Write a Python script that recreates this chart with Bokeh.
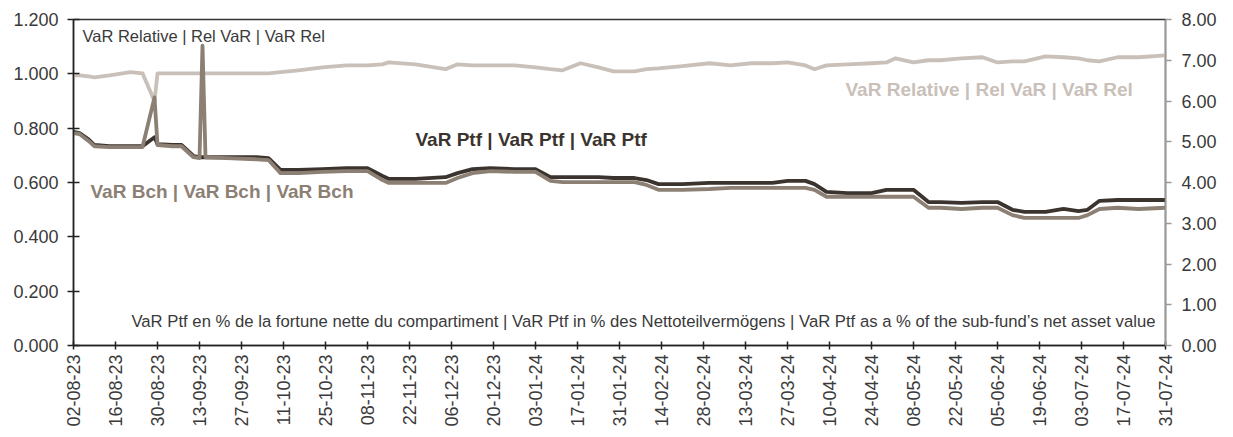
import math
import pandas as pd
from bokeh.plotting import figure
from bokeh.models import (Range1d, LinearAxis, FixedTicker, NumeralTickFormatter,
                          DatetimeTickFormatter, Label, ColumnDataSource)
from bokeh.embed import file_html
from bokeh.resources import INLINE

# ---------------- data ----------------
dates = ["2023-08-02", "2023-08-04", "2023-08-07", "2023-08-09", "2023-08-14", "2023-08-21",
         "2023-08-25", "2023-08-29", "2023-08-30", "2023-09-04", "2023-09-07", "2023-09-11",
         "2023-09-13", "2023-09-14", "2023-09-15", "2023-09-22", "2023-10-02", "2023-10-06",
         "2023-10-10", "2023-10-16", "2023-10-24", "2023-11-01", "2023-11-08", "2023-11-13",
         "2023-11-15", "2023-11-24", "2023-12-04", "2023-12-08", "2023-12-13", "2023-12-19",
         "2023-12-27", "2024-01-03", "2024-01-08", "2024-01-12", "2024-01-18", "2024-01-24",
         "2024-01-29", "2024-02-05", "2024-02-09", "2024-02-13", "2024-02-21", "2024-03-01",
         "2024-03-08", "2024-03-15", "2024-03-22", "2024-03-27", "2024-04-02", "2024-04-05",
         "2024-04-09", "2024-04-16", "2024-04-24", "2024-04-29", "2024-05-02", "2024-05-08",
         "2024-05-13", "2024-05-17", "2024-05-24", "2024-05-31", "2024-06-05", "2024-06-10",
         "2024-06-14", "2024-06-21", "2024-06-27", "2024-07-02", "2024-07-05", "2024-07-09",
         "2024-07-15", "2024-07-22", "2024-07-31"]

var_ptf = [5.24, 5.21, 5.06, 4.92, 4.89, 4.89, 4.89, 5.11, 4.94, 4.92,
           4.92, 4.65, 4.62, 4.62, 4.62, 4.62, 4.62, 4.60, 4.31, 4.31,
           4.33, 4.35, 4.35, 4.16, 4.09, 4.09, 4.13, 4.23, 4.33, 4.35,
           4.33, 4.33, 4.13, 4.13, 4.13, 4.13, 4.11, 4.11, 4.06, 3.96,
           3.96, 3.99, 3.99, 3.99, 3.99, 4.04, 4.04, 3.96, 3.77, 3.74,
           3.74, 3.82, 3.82, 3.82, 3.52, 3.52, 3.50, 3.52, 3.52, 3.33,
           3.28, 3.28, 3.35, 3.30, 3.33, 3.55, 3.57, 3.57, 3.57]

var_bch = [5.21, 5.19, 5.02, 4.89, 4.87, 4.87, 4.87, 6.09, 4.92, 4.89,
           4.89, 4.62, 4.60, 7.36, 4.62, 4.60, 4.57, 4.55, 4.23, 4.23,
           4.26, 4.28, 4.28, 4.06, 3.99, 3.99, 3.99, 4.11, 4.23, 4.28,
           4.26, 4.26, 4.04, 4.01, 4.01, 4.01, 4.01, 4.01, 3.94, 3.82,
           3.82, 3.84, 3.87, 3.87, 3.87, 3.87, 3.87, 3.82, 3.65, 3.65,
           3.65, 3.65, 3.65, 3.65, 3.38, 3.38, 3.35, 3.38, 3.38, 3.20,
           3.13, 3.13, 3.13, 3.13, 3.20, 3.35, 3.38, 3.35, 3.38]

var_rel = [0.994, 0.994, 0.991, 0.987, 0.994, 1.006, 1.002, 0.899, 1.002, 1.002,
           1.002, 1.002, 1.002, 1.002, 1.002, 1.002, 1.002, 1.002, 1.006, 1.013,
           1.024, 1.031, 1.031, 1.035, 1.042, 1.035, 1.017, 1.035, 1.031, 1.031,
           1.031, 1.024, 1.017, 1.013, 1.039, 1.024, 1.009, 1.009, 1.017, 1.020,
           1.028, 1.039, 1.031, 1.039, 1.039, 1.042, 1.031, 1.017, 1.031, 1.035,
           1.039, 1.042, 1.057, 1.042, 1.050, 1.050, 1.057, 1.061, 1.042, 1.046,
           1.046, 1.064, 1.061, 1.057, 1.050, 1.046, 1.061, 1.061, 1.068]

left_ticks = [0.0, 0.2, 0.4, 0.6, 0.8, 1.0, 1.2]
right_ticks = [0, 1, 2, 3, 4, 5, 6, 7, 8]
first_tick = "2023-08-02"
last_tick = "2024-07-31"
n_ticks = 27

title_rel_top = "VaR Relative | Rel VaR | VaR Rel"
title_ptf = "VaR Ptf | VaR Ptf | VaR Ptf"
title_bch = "VaR Bch | VaR Bch | VaR Bch"
title_rel = "VaR Relative | Rel VaR | VaR Rel"
note = ("VaR Ptf en % de la fortune nette du compartiment | VaR Ptf in % des "
        "Nettoteilvermögens | VaR Ptf as a % of the sub-fund\u2019s net asset value")

assert len(dates) == len(var_ptf) == len(var_bch) == len(var_rel)

# ---------------- styles ----------------
C_PTF = "#3b342e"
C_BCH = "#8c7f74"
C_REL = "#c9c0b9"
C_TXT = "#3a3a3a"
FONT = "Liberation Sans"

src = ColumnDataSource(dict(date=pd.to_datetime(dates), ptf=var_ptf, bch=var_bch, rel=var_rel))

x0 = pd.Timestamp(first_tick)
x1 = pd.Timestamp(last_tick)

p = figure(width=1225, height=429, x_axis_type="datetime",
           x_range=Range1d(x0, x1), y_range=Range1d(0, 1.2),
           output_backend="svg", toolbar_location=None,
           min_border_left=73, min_border_right=60, min_border_top=19, min_border_bottom=83)
p.extra_y_ranges = {"pct": Range1d(0, 8)}

p.xgrid.visible = False
p.ygrid.visible = False
p.background_fill_color = "white"
p.border_fill_color = "white"
p.outline_line_color = "#333333"
p.outline_line_width = 1.5

# x axis
tick_ms = [t.value / 1e6 for t in pd.date_range(x0, periods=n_ticks, freq="14D")]
xa = p.xaxis[0]
xa.ticker = FixedTicker(ticks=tick_ms)
fmt = "%d-%m-%y"
xa.formatter = DatetimeTickFormatter(days=fmt, months=fmt, years=fmt, hours=fmt,
                                     hourmin=fmt, minutes=fmt, seconds=fmt)
xa.major_label_orientation = math.pi / 2
xa.major_label_text_font = FONT
xa.major_label_text_font_size = "18px"
xa.major_label_text_color = C_TXT
xa.axis_line_color = "#222222"
xa.axis_line_width = 1.5
xa.major_tick_line_color = "#222222"
xa.major_tick_line_width = 1.5
xa.major_tick_in = 4
xa.major_tick_out = 4
xa.minor_tick_line_color = None
xa.major_label_standoff = 5

# left axis
ya = p.yaxis[0]
ya.ticker = FixedTicker(ticks=left_ticks)
ya.formatter = NumeralTickFormatter(format="0.000")
ya.major_label_text_font = FONT
ya.major_label_text_font_size = "18px"
ya.major_label_text_color = C_TXT
ya.axis_line_color = "#222222"
ya.axis_line_width = 1.5
ya.major_tick_line_color = "#222222"
ya.major_tick_line_width = 1.5
ya.major_tick_in = 6
ya.major_tick_out = 6
ya.minor_tick_line_color = None
ya.major_label_standoff = 9

# right axis
ra = LinearAxis(y_range_name="pct", ticker=FixedTicker(ticks=right_ticks),
                formatter=NumeralTickFormatter(format="0.00"))
ra.major_label_text_font = FONT
ra.major_label_text_font_size = "18px"
ra.major_label_text_color = C_TXT
ra.axis_line_color = "#9a9a9a"
ra.axis_line_width = 1.5
ra.major_tick_line_color = "#9a9a9a"
ra.major_tick_line_width = 1.5
ra.major_tick_in = 0
ra.major_tick_out = 6
ra.minor_tick_line_color = None
ra.major_label_standoff = 10
p.add_layout(ra, "right")

# lines
p.line("date", "rel", source=src, line_color=C_REL, line_width=3.8, line_join="round")
p.line("date", "ptf", source=src, y_range_name="pct", line_color=C_PTF, line_width=3.8,
       line_join="round")
p.line("date", "bch", source=src, y_range_name="pct", line_color=C_BCH, line_width=3.8,
       line_join="round")

# texts (screen units relative to the plot frame)
def add_label(txt, x, y, color, size, bold=False, align="left"):
    p.add_layout(Label(x=x, y=y, x_units="screen", y_units="screen", text=txt,
                       text_font=FONT, text_font_size=size, text_color=color,
                       text_font_style="bold" if bold else "normal",
                       text_align=align, text_baseline="middle"))

add_label(title_rel_top, 9, 310, C_TXT, "16.5px")
add_label(title_ptf, 342, 206, C_PTF, "19px", bold=True)
add_label(title_bch, 17, 154.5, C_BCH, "19px", bold=True)
add_label(title_rel, 772, 256, C_REL, "19px", bold=True)
add_label(note, 1082, 24.5, C_TXT, "16.7px", align="right")

open("out.html", "w").write(file_html(p, INLINE))
